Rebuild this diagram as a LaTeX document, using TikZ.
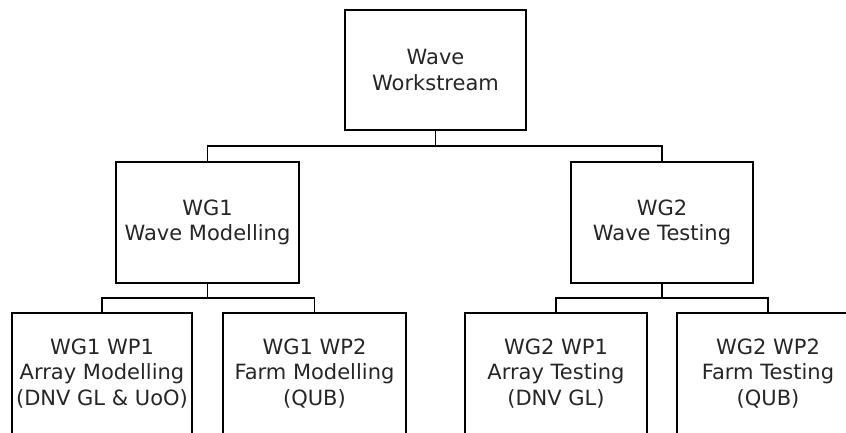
\documentclass[tikz,border=0pt]{standalone}
\usepackage{fontspec}
\setmainfont{DejaVu Sans}
\begin{document}
\begin{tikzpicture}[
    x=1pt, y=-1pt,
    box/.style={draw=black, line width=2pt, text=black!85,
                minimum width=181pt, minimum height=120pt, inner sep=0pt,
                align=center, font=\fontsize{21}{25.5}\selectfont},
    link/.style={draw=black, line width=1.8pt}]
    \useasboundingbox (0, 0) rectangle (846, 433);

    % Workstream
    \node[box] (ws) at (435.5, 70) {Wave\\Workstream};

    % Working groups
    \node[box, minimum width=183pt, minimum height=121pt] (wgone) at (207.5, 222.5) {WG1\\Wave Modelling};
    \node[box, minimum width=182pt, minimum height=121pt] (wgtwo) at (662, 222.5) {WG2\\Wave Testing};

    % Work packages
    \node[box, minimum width=180pt, minimum height=121pt] (wgonewpone) at (102, 373.5) {WG1 WP1\\Array Modelling\\(DNV GL \& UoO)};
    \node[box, minimum width=183pt, minimum height=121pt] (wgonewptwo) at (314.5, 373.5) {WG1 WP2\\Farm Modelling\\(QUB)};
    \node[box, minimum width=182pt, minimum height=121pt] (wgtwowpone) at (556, 373.5) {WG2 WP1\\Array Testing\\(DNV GL)};
    \node[box, minimum width=182pt, minimum height=121pt] (wgtwowptwo) at (768, 373.5) {WG2 WP2\\Farm Testing\\(QUB)};

    % Verbindungen
    \coordinate (busws) at (435.5, 146);
    \coordinate (busone) at (207.5, 298);
    \coordinate (bustwo) at (662, 298);
    \draw[link] (ws.south) -- (busws);
    \draw[link] (wgone.north) |- (busws) -| (wgtwo.north);
    \draw[link] (wgone.south) -- (busone);
    \draw[link] (wgonewpone.north) |- (busone) -| (wgonewptwo.north);
    \draw[link] (wgtwo.south) -- (bustwo);
    \draw[link] (wgtwowpone.north) |- (bustwo) -| (wgtwowptwo.north);
\end{tikzpicture}
\end{document}
